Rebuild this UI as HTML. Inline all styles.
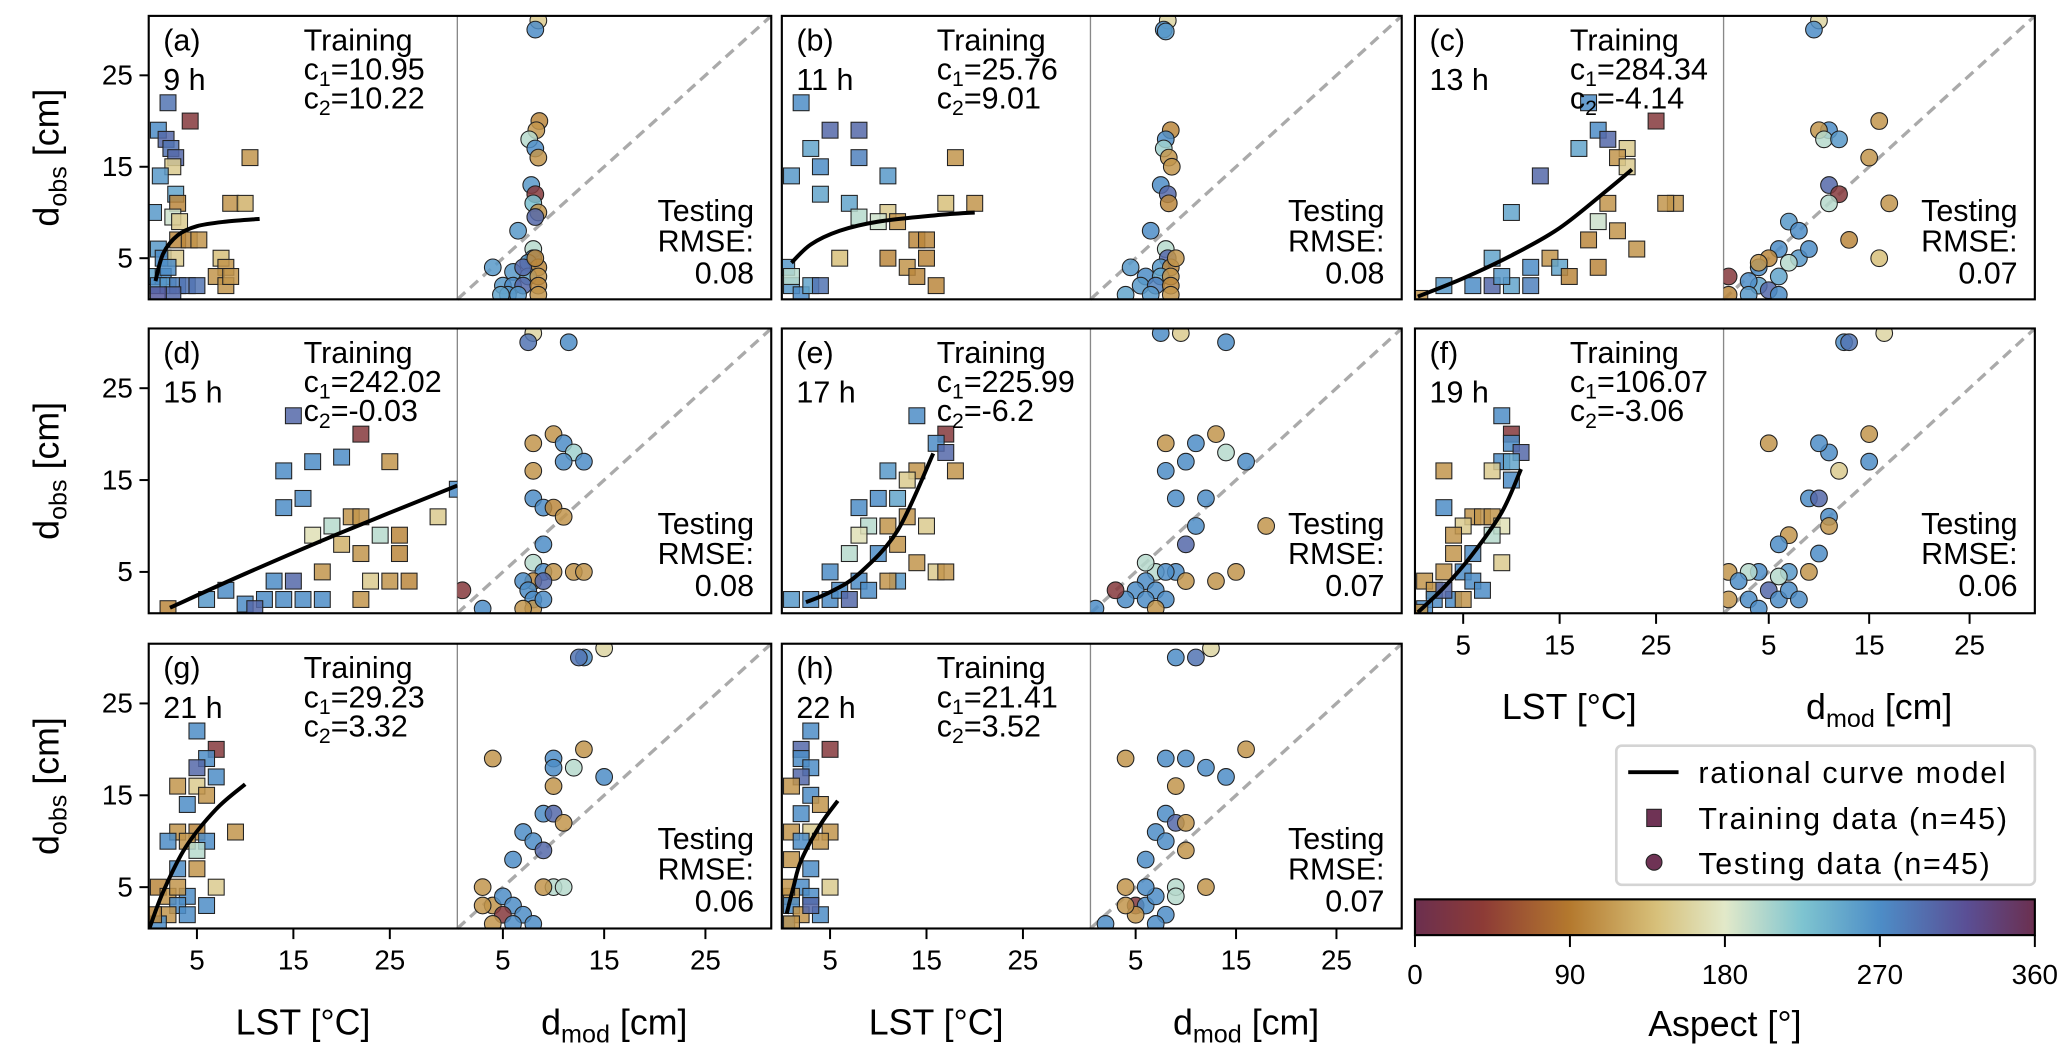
<!DOCTYPE html>
<html><head><meta charset="utf-8">
<style>
html,body{margin:0;padding:0;background:#fff}
svg{display:block;font-family:"Liberation Sans","DejaVu Sans",sans-serif}
</style></head>
<body>
<svg id="fig" width="2067" height="1053" viewBox="0 0 1560 795" xmlns="http://www.w3.org/2000/svg">
<defs>
<linearGradient id="twilight" x1="0" x2="1" y1="0" y2="0">
<stop offset="0" stop-color="#6b2f4f"/><stop offset="0.11" stop-color="#8d3b36"/>
<stop offset="0.25" stop-color="#b4792e"/><stop offset="0.39" stop-color="#d7c07a"/>
<stop offset="0.5" stop-color="#e2e9c9"/><stop offset="0.625" stop-color="#7ec4d0"/>
<stop offset="0.75" stop-color="#4d8dc7"/><stop offset="0.89" stop-color="#5a4f95"/>
<stop offset="1" stop-color="#6b2f4f"/>
</linearGradient>
</defs>
</svg>
<script>
// ---- chart data ----
const panelLabels = ["(a)","(b)","(c)","(d)","(e)","(f)","(g)","(h)"];
const hourLabels = ["9 h","11 h","13 h","15 h","17 h","19 h","21 h","22 h"];
const c1Values = ["10.95","25.76","284.34","242.02","225.99","106.07","29.23","21.41"];
const c2Values = ["10.22","9.01","-4.14","-0.03","-6.2","-3.06","3.32","3.52"];
const rmseValues = ["0.08","0.08","0.07","0.08","0.07","0.06","0.06","0.07"];
const yTicks = [5,15,25];
const xTicks = [5,15,25];
const cbTicks = [0,90,180,270,360];
// curve samples [LST, d]
const curveA = [[0.7,2.5],[1.5,5.5],[3,7.5],[5,8.5],[8,9.0],[11.5,9.3]];
const curveB = [[1,4.5],[3,6.5],[6,8],[10,9],[16,9.7],[20,10]];
const curveC = [[0.3,0.8],[5,2.8],[10,5.3],[15,8.3],[20,12.5],[22.5,14.7]];
const curveD = [[2.2,1.1],[10,4.8],[20,9.3],[32,14.4]];
const curveE = [[2.5,1.7],[5,2.8],[8,4.8],[12,9.5],[15.7,17.9]];
const curveF = [[0.3,0.6],[3,3.3],[5.8,6.7],[9,11.5],[11,16.2]];
const curveG = [[0.1,0.6],[1.5,4.5],[3.8,9.3],[7,13.5],[10,16.2]];
const curveH = [[0.5,2.1],[1.2,5],[2,7.9],[4,11.8],[5.8,14.4]];
// training points [LST, d_obs, aspect]
const trainA = [[2,22,290],[4.3,20,30],[1,19,270],[1.8,18,300],[2.3,17,290],[2.8,16,300],[2.5,15,150],[1.2,14,260],[2.8,12,250],[0.5,10,260],[3,11,100],[2.5,9.5,190],[8.5,11,110],[10,11,130],[10.5,16,110],[3,7,100],[4.2,7,100],[5.2,7,110],[1,6,260],[1.5,5,270],[2.8,5,150],[7.5,5,140],[8,4,110],[7,3,110],[8,2,110],[0.5,3,250],[1.5,3,270],[1,2,270],[2,2,260],[3,2,280],[4,2,290],[5,2,290],[2.5,1,300],[1,1,310],[8.5,3,110],[2,4,270],[3.2,9,150]];
const trainB = [[2,22,270],[5,19,300],[8,19,300],[3,17,250],[8,16,280],[4,15,270],[1,14,260],[11,14,260],[18,16,110],[20,11,110],[17,11,140],[4,12,250],[7,11,250],[8,9.5,200],[11,10,150],[10,9,190],[12,9,110],[14,7,100],[15,5,100],[11,5,100],[6,5,140],[13,4,110],[14,3,100],[16,2,100],[1,2,260],[2,1,270],[3,2,250],[4,2,290],[0.5,4,260],[1,3,200],[15,7,100]];
const trainC = [[18,22,270],[25,20,30],[19,19,270],[20,18,300],[17,17,250],[22,17,150],[21,16,110],[22,15,150],[13,14,300],[10,10,250],[20,11,110],[27,11,110],[26,11,110],[19,9,190],[21,8,110],[18,7,100],[23,6,110],[14,5,110],[8,5,250],[12,4,270],[15,4,250],[19,4,100],[3,2,260],[6,2,270],[8,2,300],[10,2,250],[12,2,280],[16,3,100],[9,3,260],[0.5,0.6,110]];
const trainD = [[15,22,300],[22,20,30],[17,17,270],[20,17.5,270],[25,17,110],[14,16,270],[14,12,270],[16,13,270],[19,10,200],[21,11,110],[22,11,110],[24,9,200],[26,9,100],[30,11,150],[32,14,270],[17,9,170],[20,8,130],[22,7,110],[26,7,100],[18,5,110],[13,4,270],[15,4,300],[23,4,150],[27,4,100],[12,2,270],[14,2,270],[16,2,270],[18,2,270],[8,3,270],[10,1.5,270],[11,1,300],[22,2,110],[2,1,100],[6,2,260],[25,4,110]];
const trainE = [[14,22,270],[17,20,30],[16,19,270],[17,18,300],[11,16,260],[14,16,110],[13,15,150],[18,16,110],[10,13,270],[12,13,250],[8,12,270],[13,11,110],[9,10,200],[11,10,110],[15,10,150],[8,9,170],[12,8,110],[7,7,200],[10,7,270],[14,6,110],[16,5,150],[17,5,110],[5,5,270],[8,4,270],[12,4,260],[3,2,270],[5,2,270],[6,3,270],[7,2,300],[1,2,260],[9,3,270],[11,4,110]];
const trainF = [[9,22,270],[10,20,30],[10,19,270],[11,18,300],[9,17,270],[10,17,250],[3,16,110],[8,16,150],[10,15,270],[3,12,270],[6,11,110],[7,11,110],[8,11,110],[5,10,150],[9,10,170],[4,9,110],[8,9,200],[4,7,110],[6,7,270],[9,6,150],[3,5,110],[5,5,270],[6,4,270],[1,4,110],[2,3,110],[4,2,270],[2,2,270],[1,1,270],[0.5,0.6,110],[3,3,300],[7,3,270],[5,2,110]];
const trainG = [[5,22,270],[7,20,30],[6,19,270],[5,18,300],[7,17,270],[3,16,110],[5,16,150],[6,15,110],[4,14,270],[3,11,110],[5,11,100],[2,10,270],[4,10,110],[6,10,270],[9,11,110],[5,9,200],[3,7,270],[5,7,110],[7,5,150],[1,5,100],[2,4,110],[4,4,270],[3,3,270],[2,2,110],[4,2,270],[1,1,270],[0.5,2,100],[6,3,270],[3,5,110]];
const trainH = [[3,22,270],[2,20,300],[5,20,30],[2,19,270],[3,18,270],[2,17,300],[1,16,110],[3,15,270],[2,13,270],[4,14,110],[1,11,110],[3,11,150],[5,11,110],[2,10,270],[4,10,110],[1,8,110],[3,7,270],[2,5,270],[5,5,150],[1,4,110],[3,4,270],[1,3,270],[2,2,110],[4,2,270],[0.5,1,270],[1,1,110],[3,3,300],[0.5,5,110]];
// testing points [d_mod, d_obs, aspect]
const testA = [[8.5,31,150],[8.2,30,270],[8.6,20,100],[8.3,19,110],[7.6,18,200],[8.2,17,270],[8.5,16,110],[7.8,13,260],[8.2,12,30],[8,11,230],[8.5,10,110],[8.2,9.5,300],[6.5,8,260],[8,6,200],[8,5,270],[7.5,4.5,260],[8.5,4,100],[4,4,260],[6,3.5,260],[7.5,3,250],[8.5,3,110],[5,2,260],[6,2,270],[7,2,300],[8.5,2,100],[5.5,1,260],[4.8,1,250],[6.5,1,260],[8.5,1,110],[7,4,300],[8.2,5,100]];
const testB = [[8.2,31,160],[7.8,30,270],[8,29.8,260],[8.5,19,100],[8,18,270],[7.8,17,210],[8.3,16,110],[8.6,15,110],[7.5,13,270],[8.2,12,300],[8.3,11,100],[6.5,8,270],[8,6,200],[8.2,5,300],[7.5,4,260],[8.5,4,100],[4.5,4,260],[6,3,270],[7.5,3,250],[8.5,3,110],[5.5,2,260],[7,2,280],[8.5,2,100],[4,1,250],[6.5,1,260],[8.5,1,110],[9,5,110]];
const testC = [[10,31,160],[9.5,30,270],[11,19,270],[10,19,110],[10.5,18,200],[12,18,260],[15,16,110],[16,20,110],[11,13,300],[12,12,30],[11,11,200],[7,9,260],[8,8,270],[17,11,110],[13,7,100],[16,5,140],[6,6,270],[8,5,260],[7,4.5,200],[5,5,100],[4,4,270],[6,3,250],[4,2,250],[5,1.5,300],[3,2.5,270],[1,3,30],[1,1,100],[6,1,270],[4,4.5,110],[9,6,270],[3,1,260]];
const testD = [[8,31,160],[7.5,30,290],[11.5,30,270],[10,20,110],[11,19,270],[8,19,110],[12,18,210],[11,17,270],[13,17,270],[8,16,110],[8,13,270],[9,12,270],[10,12,100],[11,11,110],[9,8,270],[8,6,200],[9,5,270],[10,5,110],[12,5,110],[8,4,100],[7,4,270],[7.5,3,270],[8,2,270],[8,1,110],[9,2,270],[1,3,30],[3,1,270],[7,1,110],[9,4,300],[13,5,110]];
const testE = [[7.5,31,270],[9.5,31,150],[14,30,270],[8,19,110],[11,19,270],[10,17,270],[13,20,110],[14,18,200],[16,17,270],[8,16,270],[9,13,270],[12,13,270],[11,10,270],[10,8,300],[18,10,110],[15,5,110],[13,4,110],[9,5,270],[7,5,200],[8,5,270],[6,6,200],[6,4,270],[5,3,270],[7,3,270],[4,2,270],[6,2,270],[8,2,270],[1,1,270],[3,3,30],[10,4,110],[7,1,110]];
const testF = [[12.5,30,270],[13,30,290],[16.5,31,160],[5,19,110],[11,18,270],[10,19,270],[15,20,110],[15,17,270],[12,16,150],[9,13,270],[10,13,300],[11,11,270],[11,10,110],[7,9,110],[10,7,270],[6,8,270],[7,5,260],[6,4.5,200],[4,5,270],[3,5,200],[1,5,110],[2,4,270],[5,3,300],[6,2,270],[7,3,270],[3,2,270],[8,2,270],[1,2,110],[9,5,110],[4,1,270]];
const testG = [[13,30,270],[12.5,30,290],[15,31,160],[4,19,110],[10,19,270],[10,18,270],[12,18,200],[13,20,110],[15,17,270],[10,16,110],[9,13,270],[10,13,300],[11,12,110],[7,11,270],[8,10,270],[9,9,300],[6,8,270],[10,5,200],[9,5,110],[3,5,110],[4,3,110],[5,4,270],[6,3,270],[7,2,270],[5,2,30],[8,1,270],[6,1,270],[3,3,110],[11,5,200],[4,1,110]];
const testH = [[9,30,270],[11,30,290],[12.5,31,160],[4,19,110],[8,19,270],[10,19,270],[12,18,270],[16,20,110],[14,17,270],[9,16,110],[8,13,270],[9,12,300],[10,12,110],[7,11,270],[8,10,270],[10,9,110],[6,8,270],[12,5,110],[9,5,200],[4,5,110],[5,3,30],[6,3,270],[7,4,270],[8,2,270],[5,2,110],[2,1,270],[7,1,270],[4,3,110],[9,4,200],[6,5,270]];

const curves=[curveA,curveB,curveC,curveD,curveE,curveF,curveG,curveH];
const trains=[trainA,trainB,trainC,trainD,trainE,trainF,trainG,trainH];
const tests=[testA,testB,testC,testD,testE,testF,testG,testH];

const NS="http://www.w3.org/2000/svg";
const svg=document.getElementById('fig');
function mk(tag,attrs,parent){const e=document.createElementNS(NS,tag);for(const k in attrs)e.setAttribute(k,attrs[k]);(parent||svg).appendChild(e);return e;}
function txt(s,attrs,parent){const e=mk('text',attrs,parent);e.textContent=s;return e;}

const cmapStops=[[0,[107,47,79]],[40,[141,59,54]],[90,[180,121,46]],[140,[215,192,122]],[180,[226,233,201]],[225,[126,196,208]],[270,[77,141,199]],[320,[90,79,149]],[360,[107,47,79]]];
function cmap(a){for(let i=0;i<cmapStops.length-1;i++){const[a0,c0]=cmapStops[i],[a1,c1]=cmapStops[i+1];if(a<=a1){const t=(a-a0)/(a1-a0);return 'rgb('+c0.map((v,j)=>Math.round(v+(c1[j]-v)*t)).join(',')+')';}}return 'rgb(107,47,79)';}

const cols=[[112,345,582],[590,823,1058],[1068,1301,1536]];
const rows=[[12,226],[248,463],[486,701]];
const FS=23;
const TK=21;
const AX=27;

function catmull(pts){let d='M'+pts[0][0]+','+pts[0][1];for(let i=0;i<pts.length-1;i++){const p0=pts[i-1]||pts[i],p1=pts[i],p2=pts[i+1],p3=pts[i+2]||p2;d+=' C'+(p1[0]+(p2[0]-p0[0])/6)+','+(p1[1]+(p2[1]-p0[1])/6)+' '+(p2[0]-(p3[0]-p1[0])/6)+','+(p2[1]-(p3[1]-p1[1])/6)+' '+p2[0]+','+p2[1];}return d;}

for(let p=0;p<8;p++){
  const r=Math.floor(p/3),c=p%3;
  const [x0,xs,x1]=cols[c],[yt,yb]=rows[r];
  const lx=v=>x0+v/32*(xs-x0);
  const rx=v=>xs+(v-0.5)/31*(x1-xs);
  const yy=v=>yb-(v-0.5)/31*(yb-yt);
  const g=mk('g',{});
  
  
  mk('clipPath',{id:'cl'+p},g); mk('rect',{x:x0,y:yt,width:xs-x0,height:yb-yt},g.lastChild);
  mk('clipPath',{id:'cr'+p},g); mk('rect',{x:xs,y:yt,width:x1-xs,height:yb-yt},g.lastChild);
  const dg=mk('line',{x1:xs,y1:yb,x2:x1,y2:yt,stroke:'#aaa','stroke-width':2.5,'stroke-dasharray':'8,5'},g);
  
  
  mk('line',{x1:xs,y1:yt,x2:xs,y2:yb,stroke:'#888','stroke-width':1},g);
  const gl=mk('g',{'clip-path':'url(#cl'+p+')'},g);
  trains[p].forEach(d=>{
    const m=mk('rect',{x:lx(d[0])-6,y:yy(d[1])-6,width:12,height:12,fill:cmap(d[2]),'fill-opacity':0.85,stroke:'#222','stroke-width':0.8},gl);
    
    
  });
  const cv=mk('path',{d:catmull(curves[p].map(q=>[lx(q[0]),yy(q[1])])),fill:'none',stroke:'#000','stroke-width':3},gl);
  
  
  const gr=mk('g',{'clip-path':'url(#cr'+p+')'},g);
  tests[p].forEach(d=>{
    const m=mk('circle',{cx:rx(d[0]),cy:yy(d[1]),r:6.3,fill:cmap(d[2]),'fill-opacity':0.85,stroke:'#222','stroke-width':0.8},gr);
    
    
  });
  mk('rect',{x:x0,y:yt,width:x1-x0,height:yb-yt,fill:'none',stroke:'#000','stroke-width':1.6},g);
  txt(panelLabels[p],{x:x0+11,y:yt+26,'font-size':FS},g);
  txt(hourLabels[p],{x:x0+11,y:yt+56,'font-size':FS},g);
  txt('Training',{x:x0+117,y:yt+26,'font-size':FS},g);
  const t1=txt('',{x:x0+117,y:yt+48,'font-size':FS},g);
  t1.innerHTML='c<tspan font-size="16" dy="5">1</tspan><tspan dy="-5">='+c1Values[p]+'</tspan>';
  const t2=txt('',{x:x0+117,y:yt+70,'font-size':FS},g);
  t2.innerHTML='c<tspan font-size="16" dy="5">2</tspan><tspan dy="-5">='+c2Values[p]+'</tspan>';
  txt('Testing',{x:x1-13,y:yt+155,'font-size':FS,'text-anchor':'end'},g);
  txt('RMSE:',{x:x1-13,y:yt+178,'font-size':FS,'text-anchor':'end'},g);
  txt(rmseValues[p],{x:x1-13,y:yt+202,'font-size':FS,'text-anchor':'end'},g);
  if(c===0){
    yTicks.forEach(t=>{mk('line',{x1:x0-7,x2:x0,y1:yy(t),y2:yy(t),stroke:'#000','stroke-width':1.5},g);
      txt(String(t),{x:x0-12,y:yy(t)+7,'font-size':TK,'text-anchor':'end'},g);});
    const yl=txt('',{x:0,y:0,'font-size':AX,'text-anchor':'middle',transform:'translate(44,'+((yt+yb)/2)+') rotate(-90)'},g);
    yl.innerHTML='d<tspan font-size="19" dy="6">obs</tspan><tspan dy="-6"> [cm]</tspan>';
    
    
  }
  if(r===2||p===5){
    xTicks.forEach(t=>{
      mk('line',{x1:lx(t),x2:lx(t),y1:yb,y2:yb+8,stroke:'#000','stroke-width':1.5},g);
      txt(String(t),{x:lx(t),y:yb+31,'font-size':TK,'text-anchor':'middle'},g);
      mk('line',{x1:rx(t),x2:rx(t),y1:yb,y2:yb+8,stroke:'#000','stroke-width':1.5},g);
      txt(String(t),{x:rx(t),y:yb+31,'font-size':TK,'text-anchor':'middle'},g);
    });
    const xl=txt('LST [°C]',{x:(x0+xs)/2,y:yb+80,'font-size':AX,'text-anchor':'middle'},g);
    
    
    const xr=txt('',{x:(xs+x1)/2,y:yb+80,'font-size':AX,'text-anchor':'middle'},g);
    xr.innerHTML='d<tspan font-size="19" dy="6">mod</tspan><tspan dy="-6"> [cm]</tspan>';
    
    
  }
}
const lg=mk('g',{});


mk('rect',{x:1220,y:563,width:316,height:105,rx:4,fill:'#fff',stroke:'#d4d4d4','stroke-width':2},lg);
mk('line',{x1:1229,x2:1267,y1:583,y2:583,stroke:'#000','stroke-width':3},lg);
txt('rational curve model',{x:1282,y:591,'font-size':23,textLength:232},lg);
mk('rect',{x:1243,y:611,width:11,height:13,fill:'#6f3355',stroke:'#222','stroke-width':0.8},lg);
txt('Training data (n=45)',{x:1282,y:626,'font-size':23,textLength:233},lg);
mk('circle',{cx:1248.5,cy:651,r:6,fill:'#6f3355',stroke:'#222','stroke-width':0.8},lg);
txt('Testing data (n=45)',{x:1282,y:660,'font-size':23,textLength:220},lg);
const cb=mk('g',{});


mk('rect',{x:1068,y:679,width:468,height:27,fill:'url(#twilight)',stroke:'#000','stroke-width':1.6},cb);
cbTicks.forEach(t=>{const x=1068+t/360*468;
  mk('line',{x1:x,x2:x,y1:706,y2:715,stroke:'#000','stroke-width':1.5},cb);
  txt(String(t),{x:x,y:743,'font-size':TK,'text-anchor':'middle'},cb);});
txt('Aspect [°]',{x:1302,y:782,'font-size':AX,'text-anchor':'middle'},cb);
</script>
</body></html>
